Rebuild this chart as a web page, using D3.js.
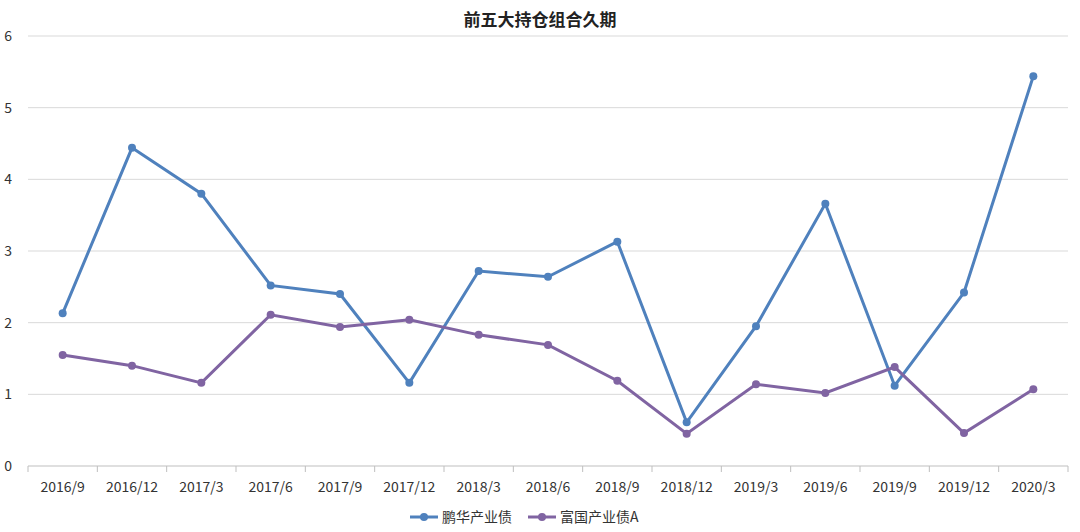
<!DOCTYPE html><html><head><meta charset="utf-8"><script src="https://cdn.jsdelivr.net/npm/d3@7"></script>
<style>body{margin:0;background:#fff}text{font-family:"Noto Sans CJK SC","DejaVu Sans",sans-serif}</style></head><body><svg id="c" width="1080" height="532"></svg><script>
const categories=["2016/9","2016/12","2017/3","2017/6","2017/9","2017/12","2018/3","2018/6","2018/9","2018/12","2019/3","2019/6","2019/9","2019/12","2020/3"];
const seriesA=[2.13,4.44,3.80,2.52,2.40,1.16,2.72,2.64,3.13,0.61,1.95,3.66,1.12,2.42,5.44];
const seriesB=[1.55,1.40,1.16,2.11,1.94,2.04,1.83,1.69,1.19,0.45,1.14,1.02,1.38,0.46,1.07];
const names=["鹏华产业债","富国产业债A"];
const colors=["#4f81bd","#8064a2"];
const yTicks=[0,1,2,3,4,5,6];
const svg=d3.select("#c");
const x=d3.scaleBand().domain(categories).range([28,1068]);
const y=d3.scaleLinear().domain([0,6]).range([466,36]);
svg.append("text").attr("x",540).attr("y",26).attr("text-anchor","middle").attr("font-size",17).attr("font-weight","bold").attr("fill","#222").text("前五大持仓组合久期");
svg.selectAll(".g").data(yTicks).join("line").attr("x1",28).attr("x2",1068).attr("y1",d=>y(d)).attr("y2",d=>y(d)).attr("stroke",d=>d===0?"#bfbfbf":"#d9d9d9");
svg.selectAll(".yl").data(yTicks).join("text").attr("x",12).attr("y",d=>y(d)+5).attr("text-anchor","end").attr("font-size",14).attr("fill","#333").text(d=>d);
svg.selectAll(".xt").data(d3.range(categories.length+1)).join("line").attr("x1",i=>28+i*x.step()).attr("x2",i=>28+i*x.step()).attr("y1",466).attr("y2",472).attr("stroke","#bfbfbf");
svg.selectAll(".xl").data(categories).join("text").attr("x",d=>x(d)+x.bandwidth()/2).attr("y",492).attr("text-anchor","middle").attr("font-size",14).attr("fill","#333").text(d=>d);
[seriesA,seriesB].forEach((s,k)=>{
 const line=d3.line().x((d,i)=>x(categories[i])+x.bandwidth()/2).y(d=>y(d));
 svg.append("path").datum(s).attr("d",line).attr("fill","none").attr("stroke",colors[k]).attr("stroke-width",3);
 svg.append("g").selectAll("circle").data(s).join("circle").attr("cx",(d,i)=>x(categories[i])+x.bandwidth()/2).attr("cy",d=>y(d)).attr("r",4).attr("fill",colors[k]);
});
const lx=[410,528];
names.forEach((n,k)=>{
 const g=svg.append("g").attr("transform",`translate(${lx[k]},517)`);
 g.append("line").attr("x1",0).attr("x2",28).attr("stroke",colors[k]).attr("stroke-width",3);
 g.append("circle").attr("cx",14).attr("r",4).attr("fill",colors[k]);
 g.append("text").attr("x",32).attr("y",5).attr("font-size",14).attr("fill","#333").text(n);
});
</script></body></html>
